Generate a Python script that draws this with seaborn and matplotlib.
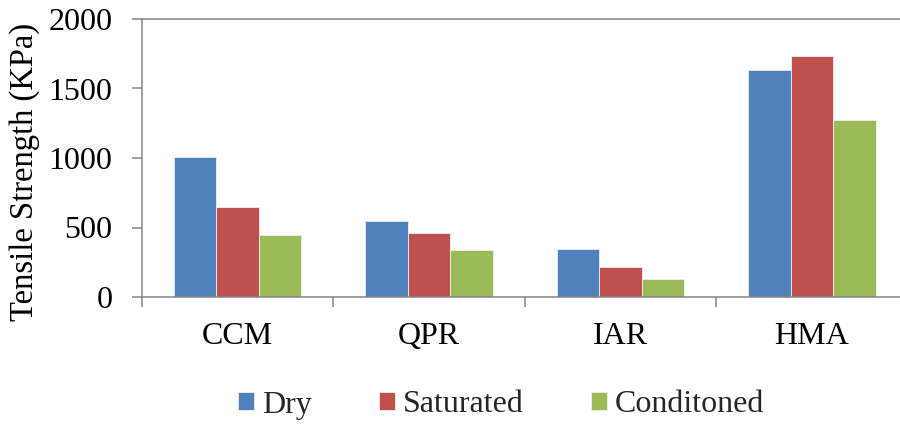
import matplotlib
matplotlib.use("Agg")
import matplotlib.pyplot as plt
import seaborn as sns
import pandas as pd
import numpy as np

categories = ["CCM", "QPR", "IAR", "HMA"]
conditions = ["Dry", "Saturated", "Conditoned"]
dry = [1005, 545, 345, 1633]
saturated = [648, 458, 214, 1732]
conditioned = [444, 337, 130, 1273]
colors = ["#4F81BD", "#C0504D", "#9BBB59"]
yticks = [0, 500, 1000, 1500, 2000]

rows = []
for cond, vals in zip(conditions, [dry, saturated, conditioned]):
    for c, v in zip(categories, vals):
        rows.append({"Mix": c, "Condition": cond, "Strength": v})
df = pd.DataFrame(rows)

sns.set_theme(style="white")
plt.rcParams["font.family"] = ["Liberation Serif", "DejaVu Serif"]

FS = 23
fig = plt.figure(figsize=(9, 4.24), dpi=100)
ax = fig.add_axes([141.7 / 900, 1 - 297 / 424, 766 / 900, 278 / 424])

sns.barplot(data=df, x="Mix", y="Strength", hue="Condition", order=categories,
            hue_order=conditions, palette=colors, width=2 / 3, saturation=1,
            edgecolor="#f0f0f0", linewidth=0.6, ax=ax, legend=True)

ax.set_xlim(-0.5, 3.5)
ax.set_ylim(0, 2000)
ax.set_yticks(yticks)
ax.set_yticklabels([str(t) for t in yticks])
ax.set_xlabel("")
ax.set_ylabel("Tensile Strength (KPa)", fontsize=FS + 0.5, color="black")
ax.yaxis.set_label_coords((25 - 141.7) / 766, 0.45)
ax.yaxis.label.set_verticalalignment("center")

gray = "#868686"
for s in ["left", "bottom", "top"]:
    ax.spines[s].set_color(gray)
    ax.spines[s].set_linewidth(1.1)
ax.spines["right"].set_visible(False)

ax.tick_params(axis="y", which="major", direction="out", length=7, width=1.1,
               color=gray, labelsize=FS, labelcolor="black", pad=14, left=True)
ax.set_xticks(range(len(categories)))
ax.set_xticklabels(categories)
ax.set_xticks(np.arange(-0.5, 4.0, 1.0), minor=True)
ax.tick_params(axis="x", which="major", length=0, labelsize=FS, labelcolor="black", pad=18)
ax.tick_params(axis="x", which="minor", direction="out", length=7, width=1.1,
               color=gray, bottom=True)

handles, labels = ax.get_legend_handles_labels()
ax.get_legend().remove()
fig.legend(handles, labels, loc="center", bbox_to_anchor=(501 / 900, 1 - 405 / 424),
           ncol=3, frameon=False, fontsize=FS, handlelength=0.5, handleheight=0.5,
           handletextpad=0.25, columnspacing=2.1, borderpad=0)

fig.savefig("out.png", dpi=100)
